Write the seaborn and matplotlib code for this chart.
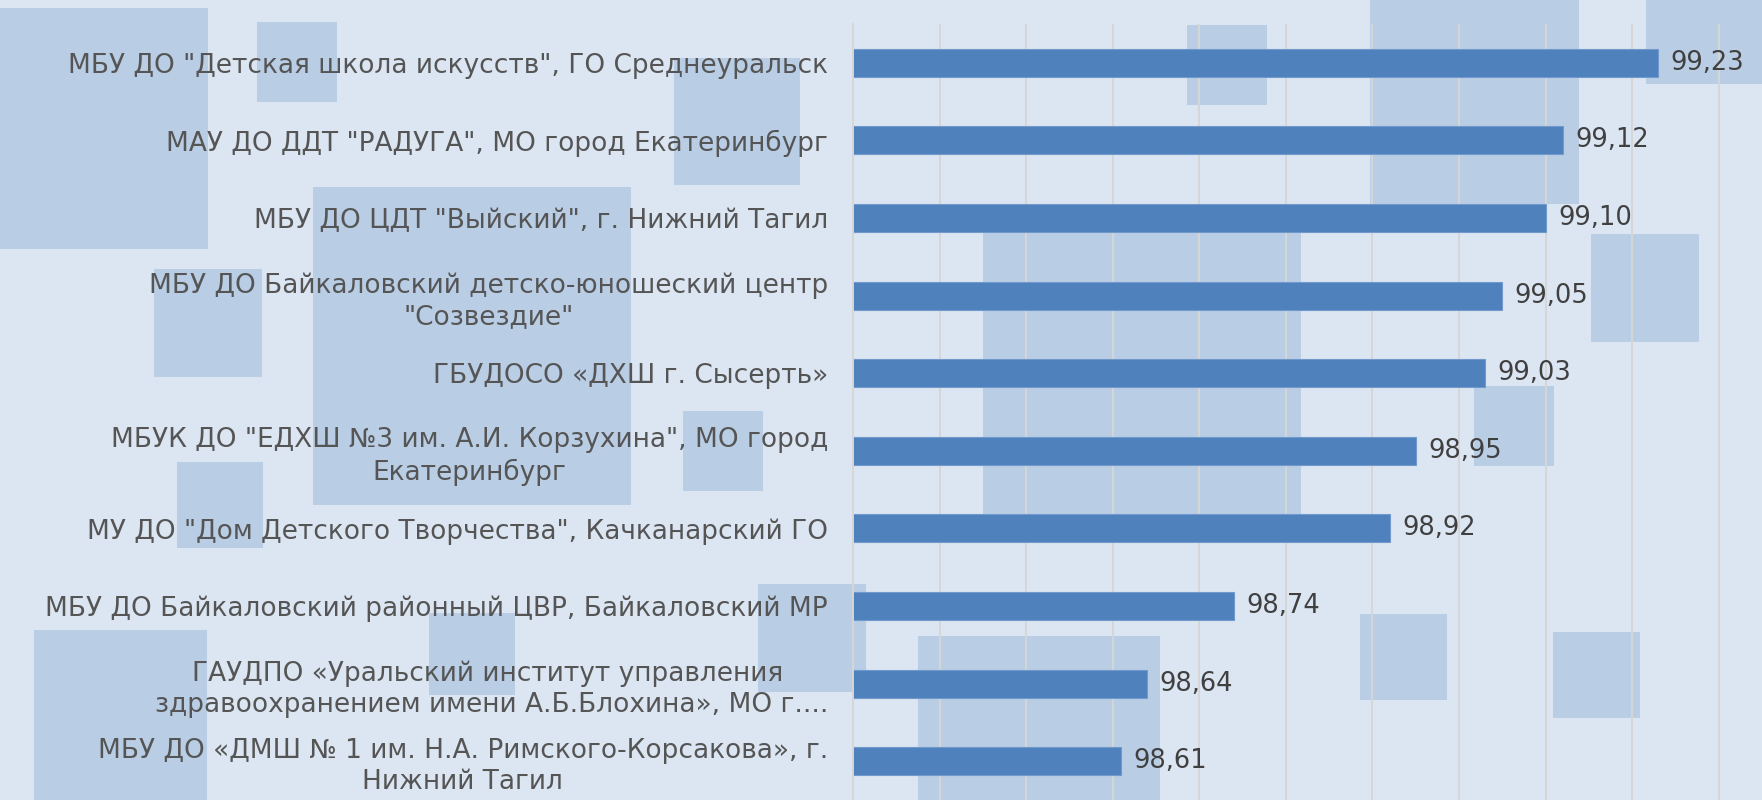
import matplotlib
matplotlib.use("Agg")
import matplotlib.pyplot as plt
import matplotlib.patches as mpatches
import seaborn as sns
import pandas as pd

# данные (сверху вниз)
organizations = [
    'МБУ ДО "Детская школа искусств", ГО Среднеуральск',
    'МАУ ДО ДДТ "РАДУГА", МО город Екатеринбург',
    'МБУ ДО ЦДТ "Выйский", г. Нижний Тагил',
    'МБУ ДО Байкаловский детско-юношеский центр\n"Созвездие"',
    'ГБУДОСО «ДХШ г. Сысерть»',
    'МБУК ДО "ЕДХШ №3 им. А.И. Корзухина", МО город\nЕкатеринбург',
    'МУ ДО "Дом Детского Творчества", Качканарский ГО',
    'МБУ ДО Байкаловский районный ЦВР, Байкаловский МР',
    'ГАУДПО «Уральский институт управления \nздравоохранением имени А.Б.Блохина», МО г....',
    'МБУ ДО «ДМШ № 1 им. Н.А. Римского-Корсакова», г.\nНижний Тагил',
]
scores = [99.23, 99.12, 99.10, 99.05, 99.03, 98.95, 98.92, 98.74, 98.64, 98.61]

# декоративные прямоугольники на фоне (в пикселях картинки: x, y, ширина, высота)
deco_boxes = [
    (0, 8, 208, 241), (257, 22, 80, 80), (674, 58, 126, 127),
    (313, 187, 318, 318), (154, 269, 108, 108), (683, 411, 80, 80),
    (177, 462, 86, 86), (758, 584, 108, 108), (429, 613, 86, 82),
    (34, 630, 173, 170), (1187, 25, 80, 80), (1370, 0, 209, 204),
    (1646, 0, 116, 84), (983, 232, 318, 283), (1591, 234, 108, 108),
    (1474, 386, 80, 80), (1360, 614, 87, 86), (1553, 632, 87, 86),
    (918, 636, 242, 164),
]

df = pd.DataFrame({"org": organizations, "score": scores})

W, H = 1762, 800
bg = "#dce6f2"
sns.set_theme(style="white")
plt.rcParams['font.family'] = ['DejaVu Sans']

fig = plt.figure(figsize=(W / 100, H / 100), dpi=100, facecolor=bg)

for x, y, w, h in deco_boxes:
    fig.patches.append(mpatches.Rectangle(
        (x / W, 1 - (y + h) / H), w / W, h / H,
        transform=fig.transFigure, facecolor="#b9cde5", edgecolor="none", zorder=-1))

ax = fig.add_axes([853 / W, 0, 1 - 853 / W, 1 - 24 / H])
ax.patch.set_visible(False)

sns.barplot(data=df, x="score", y="org", orient="h", color="#4f81bd",
            width=0.36, edgecolor="#7299cc", linewidth=0.8, saturation=1, ax=ax)

ax.set_xlim(98.3, 99.35)
ax.set_xticks([98.3 + 0.1 * i for i in range(11)])
ax.set_xticklabels([])
ax.tick_params(axis="both", length=0)
ax.grid(axis="x", color="#d6d6d6", linewidth=1.4)
ax.grid(axis="y", visible=False)
ax.set_axisbelow(True)
for side in ["top", "right", "bottom"]:
    ax.spines[side].set_visible(False)
ax.spines["left"].set_color("#d6d6d6")
ax.spines["left"].set_linewidth(1.4)

ax.set_xlabel("")
ax.set_ylabel("")
for lbl in ax.get_yticklabels():
    lbl.set_fontsize(19)
    lbl.set_color("#555555")
    lbl.set_multialignment("center")
    lbl.set_linespacing(1.25)
ax.tick_params(axis="y", pad=18)

ax.bar_label(ax.containers[0], labels=[f"{v:.2f}".replace(".", ",") for v in scores],
             padding=9, fontsize=18.5, color="#404040")

fig.savefig("out.png", dpi=100, facecolor=bg)
